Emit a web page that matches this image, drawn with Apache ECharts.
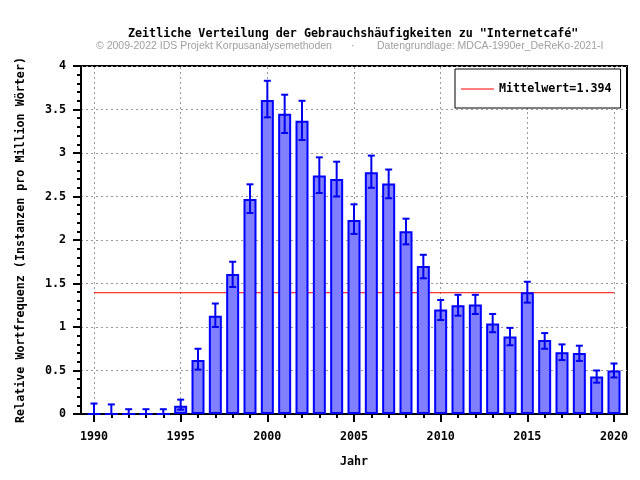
<!DOCTYPE html>
<html>
<head>
<meta charset="utf-8">
<script src="https://cdn.jsdelivr.net/npm/echarts@6/dist/echarts.min.js"></script>
<style>html,body{margin:0;padding:0;background:#fff}#c{width:640px;height:480px}</style>
</head>
<body>
<div id="c"></div>
<script>
const years = [1990,1991,1992,1993,1994,1995,1996,1997,1998,1999,2000,2001,2002,2003,2004,2005,2006,2007,2008,2009,2010,2011,2012,2013,2014,2015,2016,2017,2018,2019,2020];
const values = [0,0,0,0,0,0.095,0.62,1.13,1.61,2.47,3.61,3.45,3.37,2.74,2.70,2.23,2.78,2.65,2.10,1.70,1.20,1.25,1.26,1.04,0.89,1.40,0.85,0.71,0.70,0.43,0.50];
const errLow = [0,0,0,0,0,0.05,0.51,1.00,1.46,2.31,3.41,3.23,3.15,2.54,2.50,2.07,2.60,2.48,1.95,1.56,1.08,1.13,1.15,0.94,0.79,1.28,0.75,0.62,0.61,0.36,0.42];
const errHigh = [0.12,0.11,0.055,0.055,0.055,0.165,0.75,1.27,1.75,2.64,3.83,3.67,3.60,2.95,2.90,2.41,2.97,2.81,2.245,1.83,1.31,1.37,1.37,1.15,0.99,1.52,0.93,0.80,0.785,0.50,0.58];
const meanValue = 1.394;
const majorYears = [1990,1995,2000,2005,2010,2015,2020];
const minorYears = years;

const mono = 'DejaVu Sans Mono';
const chart = echarts.init(document.getElementById('c'), null, {renderer:'canvas'});

const xMin = 1989.25, xMax = 2020.75;

chart.setOption({
  animation: false,
  backgroundColor: '#fff',
  graphic: [
    {type:'text', left:128, top:28, style:{text:'Zeitliche Verteilung der Gebrauchshäufigkeiten zu "Internetcafé"', font:'bold 11.7px "DejaVu Sans Mono"', fill:'#000'}},
    {type:'text', left:96, top:41, style:{text:'© 2009-2022 IDS Projekt Korpusanalysemethoden', font:'10.5px "Liberation Sans"', fill:'#a0a0a0'}},
    {type:'text', left:351, top:41, style:{text:'·', font:'10.5px "Liberation Sans"', fill:'#a0a0a0'}},
    {type:'text', left:377, top:41, style:{text:'Datengrundlage: MDCA-1990er_DeReKo-2021-I', font:'10.5px "Liberation Sans"', fill:'#a0a0a0'}}
  ],
  grid: {left:81, right:13, top:66, bottom:66, show:true, borderColor:'#000', borderWidth:2, containLabel:false},
  legend: {
    left:455, top:69, orient:'vertical',
    padding:[14,9,13,6],
    borderColor:'#000', borderWidth:1, backgroundColor:'#fff',
    itemWidth:33, itemHeight:13, itemGap:5,
    textStyle:{fontFamily:mono, fontWeight:'bold', fontSize:11.7, color:'#000'},
    data:[{name:'Mittelwert=1.394', icon:'path://M0,0L33,0L33,1L0,1Z'}]
  },
  xAxis: [
    {
      type:'value', min:xMin, max:xMax, gridIndex:0, position:'bottom',
      name:'Jahr', nameLocation:'middle', nameGap:42,
      nameTextStyle:{fontFamily:mono, fontWeight:'bold', fontSize:11.7, color:'#000'},
      axisLine:{show:true, onZero:false, lineStyle:{color:'#000', width:2}},
      axisTick:{show:true, inside:false, length:8, lineStyle:{color:'#000', width:2}, customValues:majorYears},
      axisLabel:{show:true, margin:17, customValues:majorYears, fontFamily:mono, fontWeight:'bold', fontSize:11.7, color:'#000', formatter:v=>String(v)},
      splitLine:{show:false}
    },
    {
      type:'value', min:xMin, max:xMax, gridIndex:0, position:'top', offset:-348,
      axisLine:{show:false, onZero:false},
      axisTick:{show:true, inside:true, length:4, lineStyle:{color:'#000', width:2}, customValues:minorYears},
      axisLabel:{show:false},
      splitLine:{show:false}
    }
  ],
  yAxis: [{
    type:'value', min:0, max:4, interval:0.5,
    name:'Relative Wortfrequenz (Instanzen pro Million Wörter)', nameLocation:'middle', nameGap:54,
    nameTextStyle:{fontFamily:mono, fontWeight:'bold', fontSize:11.7, color:'#000'},
    axisLine:{show:true, lineStyle:{color:'#000', width:2}},
    axisTick:{show:true, inside:false, length:8, lineStyle:{color:'#000', width:2}},
    minorTick:{show:true, splitNumber:5, length:4, lineStyle:{color:'#000', width:2}},
    axisLabel:{margin:15, fontFamily:mono, fontWeight:'bold', fontSize:11.7, color:'#000', formatter:v=>String(v)},
    splitLine:{show:true, lineStyle:{color:'#999', type:[2,3], width:1}}
  }],
  series: [
    {
      name:'gridx', type:'line', xAxisIndex:0, yAxisIndex:0, silent:true, z:0,
      data:[], symbol:'none',
      markLine:{z:1, silent:true, symbol:'none', label:{show:false}, lineStyle:{color:'#999', type:[2,3], width:1},
        data: majorYears.map(y=>({xAxis:y}))}
    },
    {
      name:'Mittelwert=1.394', type:'line', xAxisIndex:0, yAxisIndex:0, z:2,
      symbol:'none', lineStyle:{color:'#ff0000', width:1}, itemStyle:{color:'#ff0000'},
      data:[[years[0], meanValue],[years[years.length-1], meanValue]]
    },
    {
      name:'bars', type:'bar', xAxisIndex:0, yAxisIndex:0, z:3,
      barWidth:13,
      itemStyle:{color:'#8080ff', borderColor:'#0000ff', borderWidth:2},
      data: years.map((y,i)=>[y, values[i]])
    },
    {
      name:'err', type:'custom', xAxisIndex:0, yAxisIndex:0, z:4,
      data: years.map((y,i)=>[y, errLow[i], errHigh[i]]),
      renderItem:(params, api)=>{
        const x = api.value(0);
        const lo = api.coord([x, api.value(1)]);
        const hi = api.coord([x, api.value(2)]);
        const hw = 3.5;
        const st = {stroke:'#0000ee', lineWidth:2};
        return {type:'group', children:[
          {type:'line', shape:{x1:lo[0], y1:lo[1], x2:hi[0], y2:hi[1]}, style:st},
          {type:'line', shape:{x1:lo[0]-hw, y1:lo[1], x2:lo[0]+hw, y2:lo[1]}, style:st},
          {type:'line', shape:{x1:hi[0]-hw, y1:hi[1], x2:hi[0]+hw, y2:hi[1]}, style:st}
        ]};
      }
    }
  ]
});
</script>
</body>
</html>
